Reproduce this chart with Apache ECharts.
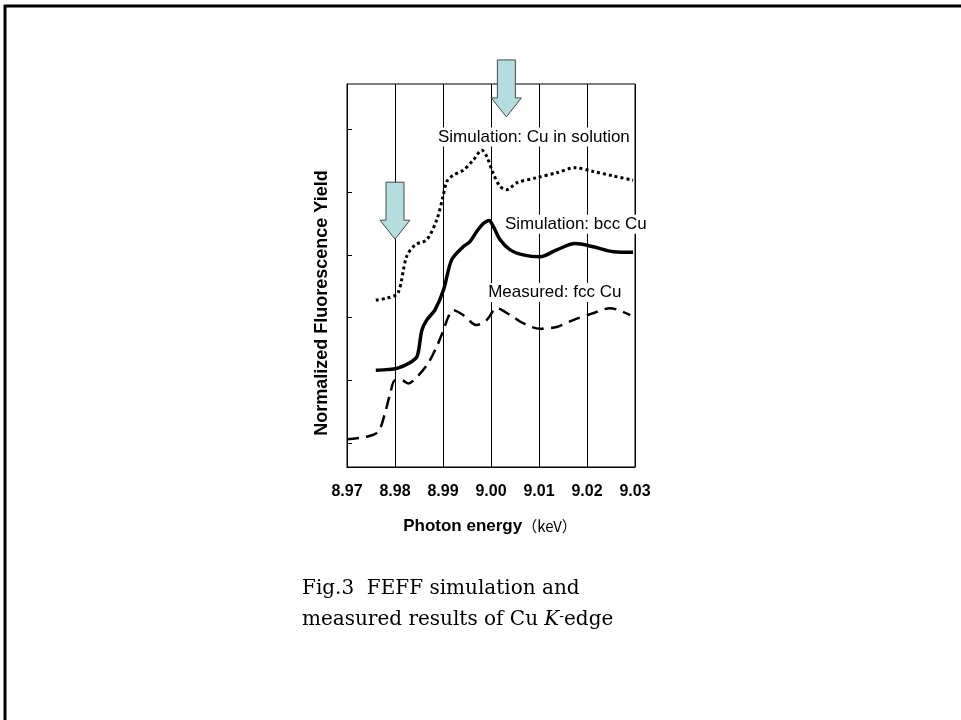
<!DOCTYPE html>
<html>
<head>
<meta charset="utf-8">
<script src="https://cdn.jsdelivr.net/npm/echarts/dist/echarts.min.js"></script>
<style>
  html, body { margin: 0; padding: 0; background: #fff; }
  #main { width: 961px; height: 720px; }
</style>
</head>
<body>
<div id="main"></div>
<script>
// values (energy in keV, yield in tick units)
const solutionEnergy = [8.976, 8.9783, 8.9806, 8.9824, 8.9842, 8.9866, 8.9887, 8.99, 8.9908, 8.9921, 8.9942, 8.9963, 8.9981, 8.9991, 9.0004, 9.0019, 9.0033, 9.0054, 9.0095, 9.0137, 9.0175, 9.0213, 9.0254, 9.0296];
const solutionYield  = [2.28, 2.31, 2.39, 2.97, 3.16, 3.24, 3.56, 3.93, 4.17, 4.27, 4.35, 4.51, 4.67, 4.57, 4.31, 4.09, 4.04, 4.15, 4.23, 4.31, 4.39, 4.33, 4.26, 4.19];

const bccEnergy = [8.976, 8.9781, 8.9804, 8.9831, 8.9846, 8.9856, 8.9866, 8.9883, 8.9901, 8.9918, 8.9942, 8.9956, 8.997, 8.9984, 8.9996, 9.0005, 9.0019, 9.004, 9.0067, 9.0102, 9.0137, 9.0175, 9.0213, 9.0255, 9.0296];
const bccYield  = [1.16, 1.17, 1.19, 1.28, 1.38, 1.80, 1.96, 2.12, 2.44, 2.92, 3.13, 3.21, 3.37, 3.50, 3.55, 3.45, 3.24, 3.08, 3.00, 2.97, 3.08, 3.18, 3.13, 3.05, 3.04];

const fccEnergy = [8.97, 8.9741, 8.9765, 8.9779, 8.979, 8.98, 8.9814, 8.9828, 8.9849, 8.9869, 8.9887, 8.9901, 8.9911, 8.9921, 8.9942, 8.997, 8.9991, 9.0012, 9.004, 9.0067, 9.0102, 9.0137, 9.0171, 9.0213, 9.0248, 9.029];
const fccYield  = [0.06, 0.10, 0.18, 0.47, 0.79, 1.00, 1.00, 0.95, 1.08, 1.27, 1.54, 1.80, 2.01, 2.12, 2.04, 1.88, 1.96, 2.15, 2.04, 1.91, 1.82, 1.85, 1.96, 2.07, 2.15, 2.04];

const yTicks = [0, 1, 2, 3, 4, 5];
const arrowTips = [[8.98, 3.25], [9.0032, 5.2]];
const curveLabels = [
  { text: 'Simulation: Cu in solution', at: [8.98875, 4.88] },
  { text: 'Simulation: bcc Cu', at: [9.0027, 3.49] },
  { text: 'Measured: fcc Cu', at: [8.9992, 2.40] }
];

const zip = (xs, ys) => xs.map((x, i) => [x, ys[i]]);
const sans = 'Liberation Sans, Arial, sans-serif';

const option = {
  animation: false,
  backgroundColor: '#fff',
  grid: {
    left: 347, top: 84, right: 326, bottom: 253,
    show: true, borderColor: '#000', borderWidth: 1
  },
  xAxis: {
    type: 'value',
    min: 8.97, max: 9.03, interval: 0.01,
    axisLine: { onZero: false, lineStyle: { color: '#000', width: 1 } },
    axisTick: { inside: true, length: 5, lineStyle: { color: '#000' } },
    splitLine: { show: true, lineStyle: { color: '#000', width: 1 } },
    axisLabel: {
      margin: 17, color: '#000', fontFamily: sans, fontWeight: 'bold', fontSize: 16,
      formatter: v => v.toFixed(2)
    }
  },
  yAxis: {
    type: 'value',
    min: -0.383, max: 5.725,
    axisLine: { show: true, onZero: false, lineStyle: { color: '#000', width: 1 } },
    axisTick: { show: true, inside: true, length: 5, customValues: yTicks, lineStyle: { color: '#000' } },
    axisLabel: { show: false },
    splitLine: { show: false }
  },
  series: [
    {
      name: 'Simulation: Cu in solution', type: 'line', smooth: 0.3, symbol: 'none',
      data: zip(solutionEnergy, solutionYield),
      lineStyle: { color: '#000', width: 3, type: [3, 3] }
    },
    {
      name: 'Simulation: bcc Cu', type: 'line', smooth: 0.3, symbol: 'none',
      data: zip(bccEnergy, bccYield),
      lineStyle: { color: '#000', width: 3.5 }
    },
    {
      name: 'Measured: fcc Cu', type: 'line', smooth: 0.3, symbol: 'none',
      data: zip(fccEnergy, fccYield),
      lineStyle: { color: '#000', width: 2.5, type: [12, 7] }
    }
  ]
};

const myChart = echarts.init(document.getElementById('main'));
myChart.setOption(option);

// annotations placed from data coordinates
const toPx = p => myChart.convertToPixel({ gridIndex: 0 }, p);
const graphics = [];

// page frame (top and left only)
graphics.push({ type: 'line', shape: { x1: 4, y1: 6, x2: 961, y2: 6 }, style: { stroke: '#000', lineWidth: 3 }, z: 100 });
graphics.push({ type: 'line', shape: { x1: 5, y1: 5, x2: 5, y2: 720 }, style: { stroke: '#000', lineWidth: 3 }, z: 100 });

// arrows
const shaftLen = [38, 38];
arrowTips.forEach((tip, i) => {
  const [x, y] = toPx(tip);
  const hw = 15, sw = 9, hl = 19, sl = shaftLen[i];
  graphics.push({
    type: 'polygon',
    shape: { points: [
      [x, y], [x - hw, y - hl], [x - sw, y - hl], [x - sw, y - hl - sl],
      [x + sw, y - hl - sl], [x + sw, y - hl], [x + hw, y - hl]
    ] },
    style: { fill: '#b4dde0', stroke: '#4a4a4a', lineWidth: 1 },
    z: 50
  });
});

// curve labels
curveLabels.forEach(l => {
  const [x, y] = toPx(l.at);
  graphics.push({
    type: 'text', x: x, y: y, z: 40,
    style: {
      text: l.text, fill: '#000', font: '17px ' + sans,
      textVerticalAlign: 'middle', backgroundColor: '#fff', padding: [1, 1]
    }
  });
});

// axis titles
graphics.push({
  type: 'text', x: 322, y: 303, rotation: Math.PI / 2, z: 40,
  style: {
    text: 'Normalized Fluorescence Yield', fill: '#000',
    font: 'bold 18px ' + sans, textAlign: 'center', textVerticalAlign: 'middle'
  }
});
graphics.push({
  type: 'text', x: 490, y: 526, z: 40,
  style: {
    text: '{b|Photon energy}{n|（keV）}', textAlign: 'center', textVerticalAlign: 'middle',
    rich: {
      b: { fontFamily: sans, fontWeight: 'bold', fontSize: 17, fill: '#000' },
      n: { fontFamily: 'Noto Sans CJK JP', fontSize: 15, fill: '#000' }
    }
  }
});

// caption
graphics.push({
  type: 'text', x: 302, y: 589, z: 40,
  style: { text: 'Fig.3  FEFF simulation and', fill: '#000', font: '20px DejaVu Serif', textVerticalAlign: 'middle' }
});
graphics.push({
  type: 'text', x: 302, y: 620, z: 40,
  style: {
    text: 'measured results of Cu {i|K}{s|-}edge', fill: '#000', font: '20px DejaVu Serif',
    textVerticalAlign: 'middle',
    rich: {
      i: { fontFamily: 'DejaVu Serif', fontStyle: 'italic', fontSize: 20, fill: '#000' },
      s: { fontFamily: 'DejaVu Serif', fontSize: 14, fill: '#000', verticalAlign: 'top' }
    }
  }
});

myChart.setOption({ graphic: graphics });
</script>
</body>
</html>
